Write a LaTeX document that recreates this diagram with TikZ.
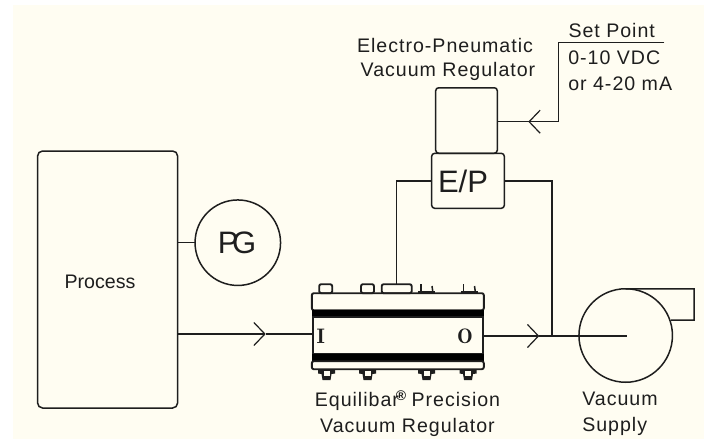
\documentclass[tikz,border=0pt]{standalone}
\usepackage{fontspec}
\setmainfont{Liberation Sans}
\usepackage{tikz}
\usetikzlibrary{shapes,arrows.meta,positioning,calc}

\definecolor{bgcream}{HTML}{FFFDF2}
\definecolor{inkdark}{HTML}{1E1E1E}

\tikzset{
	wire/.style={line width=1.5pt, draw=inkdark},
	barb/.style={-{Straight Barb[length=11pt,width=23pt,line width=1.2pt]}},
	vessel/.style={wire, rectangle, rounded corners=5pt, inner sep=0pt, outer sep=0pt},
	dial/.style={wire, circle, inner sep=0pt, outer sep=0pt},
	plate/.style={line width=1.9pt, draw=inkdark, rectangle, rounded corners=2pt, inner sep=0pt, outer sep=0pt},
	band/.style={fill=black, rectangle, inner sep=0pt, outer sep=0pt},
	caption/.style={text=inkdark, font=\fontsize{19.6}{26}\selectfont, inner sep=0pt, outer sep=0pt},
	widecaption/.style={caption, font=\fontsize{19.6}{26}\selectfont\addfontfeature{LetterSpace=5}},
	bigcaption/.style={text=inkdark, font=\fontsize{31}{31}\selectfont, inner sep=0pt, outer sep=0pt},
	portmark/.style={text=inkdark, font=\fontfamily{lmr}\fontsize{21}{21}\bfseries\selectfont, inner sep=0pt}
}

\begin{document}
\begin{tikzpicture}[x=1pt,y=-1pt]
	\useasboundingbox (0,0) rectangle (704,439);
	\fill[bgcream] (13,5) rectangle (704,439);

	% process side
	\node[vessel, minimum width=140pt, minimum height=257pt] (process) at (107.6,279.5) {};
	\node[caption] (processtext) at (100,281.7) {Process};
	\node[dial, minimum size=85.5pt] (pg) at (237.8,242.7) {};
	\node[bigcaption] (pgtext) at (237,243) {P\kern-6.5pt G};
	\draw[wire] (process.east |- pg.west) -- (pg.west);

	% regulator body
	\node[plate, minimum width=172pt, minimum height=17pt] (regtop) at (397.8,301.7) {};
	\node[band, minimum width=172pt, minimum height=7.5pt] (regbandA) at (397.8,313.6) {};
	\node[plate, minimum width=170pt, minimum height=37pt, rounded corners=0pt] (regbody) at (397.8,335.7) {};
	\node[band, minimum width=172pt, minimum height=7.5pt] (regbandB) at (397.8,357.6) {};
	\node[plate, minimum width=172pt, minimum height=8pt] (regbottom) at (397.8,365.2) {};
	\node[portmark] (portI) at (320.7,336) {I};
	\node[portmark] (portO) at (465,336) {O};

	% caps and nuts
	\node[plate, minimum width=13pt, minimum height=9pt] (capA) at (325.7,288.7) {};
	\node[plate, minimum width=13pt, minimum height=9pt] (capB) at (367.5,288.7) {};
	\node[plate, minimum width=30pt, minimum height=9pt] (capC) at (396.7,288.7) {};
	\foreach \x in {427,469.5} {
		\draw[wire] (\x-6,284) -- (\x-6,293);
		\draw[wire] (\x+5,286) -- (\x+6,293);
		\draw[line width=3pt, draw=inkdark] (\x-9,292.5) -- (\x+8,292.5);
	}
	\foreach \x in {326.5,367.5,426.5,468} {
		\fill[inkdark] (\x-8.5,369.5) -- (\x+8.5,369.5) -- (\x+8.5,373.5) -- (\x+5,374) -- (\x+4,380) -- (\x-4,380) -- (\x-5,374) -- (\x-8.5,373.5) -- cycle;
		\fill[bgcream] (\x-3,370.5) rectangle (\x+3,375.5);
	}

	% electro-pneumatic unit
	\node[vessel, rounded corners=3pt, minimum width=61.6pt, minimum height=65.5pt] (solenoid) at (466.5,120.5) {};
	\node[vessel, rounded corners=3pt, minimum width=72.6pt, minimum height=55pt] (ep) at (468,180.8) {};
	\node[bigcaption] (eptext) at (463,181) {E/P};
	\node[widecaption] (eplabelA) at (445,45) {Electro-Pneumatic};
	\node[widecaption] (eplabelB) at (448,71) {Vacuum Regulator};

	% set point
	\coordinate (setcorner) at (558.3,42.7);
	\coordinate (setend) at (664.3,42.7);
	\coordinate (setarrow) at (528.3,121.7);
	\node[widecaption] (settext) at (611.7,30.7) {Set Point};
	\node[widecaption, anchor=west, align=left] (setrange) at (568.3,71) {0-10 VDC\\or 4-20 mA};
	\draw[wire] (setend) -- (setcorner) |- (setarrow);
	\draw[wire, barb] (setcorner |- setarrow) -- (setarrow);
	\draw[wire] (setarrow) -- (solenoid.east |- setarrow);

	% pump
	\node[dial, minimum size=93.5pt] (pump) at (625.7,335.5) {};
	\coordinate (pumphub) at (626.7,336);
	\coordinate (outletA) at (694,288.8);
	\coordinate (outletB) at (694,320);
	\coordinate (outletC) at (671,320);
	\draw[wire] (pump.north) -- (outletA) -- (outletB) -- (outletC);
	\node[widecaption, anchor=west, align=left] (pumptext) at (582.3,413.3) {Vacuum\\Supply};

	% flow lines
	\coordinate (inlet) at (regbody.west |- 0,334);
	\coordinate (inarrow) at (265.7,334);
	\coordinate (outarrow) at (539.3,336);
	\coordinate (junction) at (552,336);
	\draw[wire, barb] (process.east |- inlet) -- (inarrow);
	\draw[wire] (inarrow) -- (inlet);
	\draw[wire, barb] (regbody.east |- outarrow) -- (outarrow);
	\draw[wire] (outarrow) -- (pumphub);
	\draw[wire] (ep.east) -| (junction);
	\draw[wire] (ep.west) -| (capC.north);

	\node[widecaption, align=center] (reglabel) at (407.5,413.8) {Equilibar\kern-3pt\raisebox{6pt}{\fontsize{14}{14}\selectfont\bfseries ®}\kern-1pt\ Precision\\Vacuum Regulator};
\end{tikzpicture}
\end{document}
